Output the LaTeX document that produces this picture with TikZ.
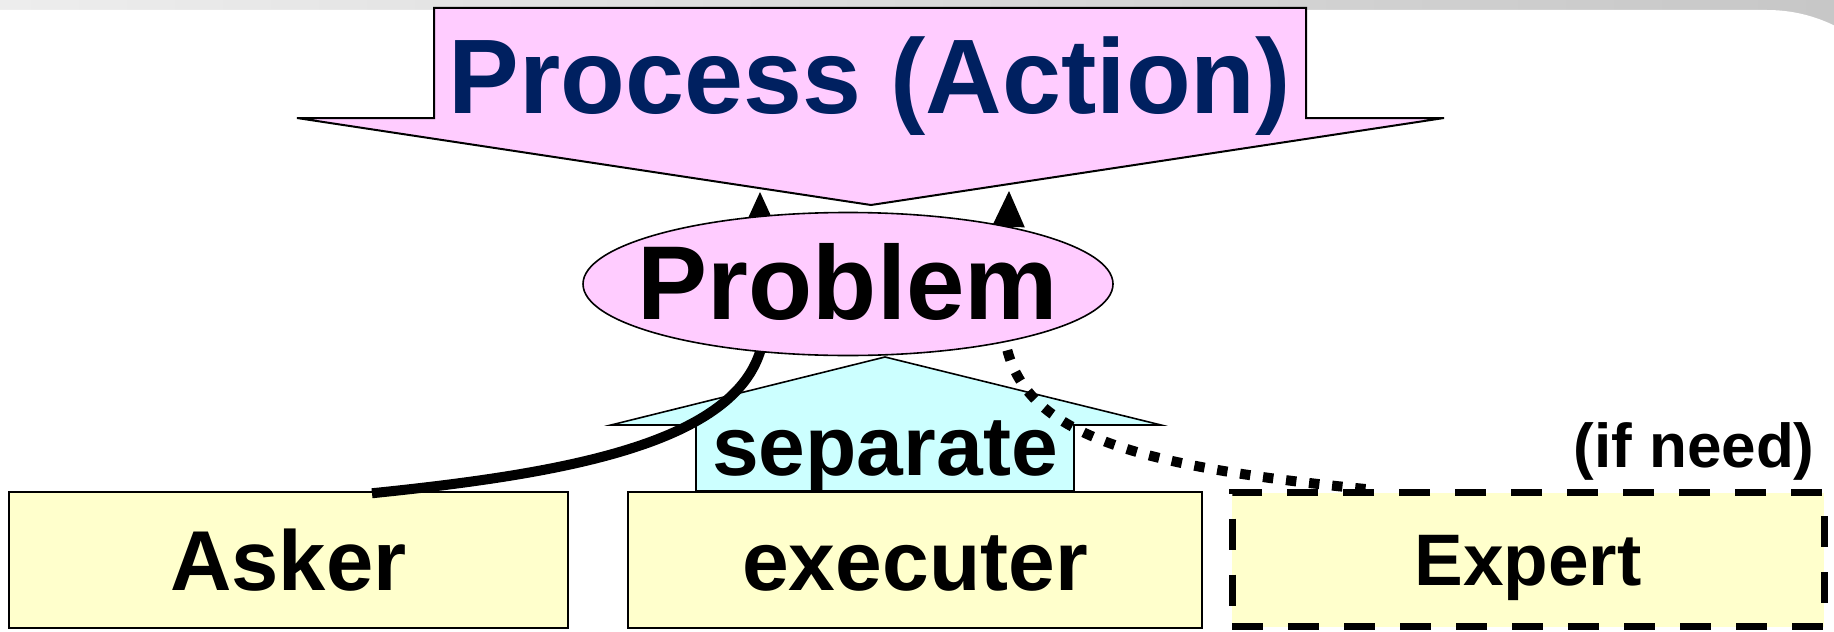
\documentclass[tikz,border=0pt]{standalone}
\usepackage{fontspec}
\setmainfont{Liberation Sans}
\usetikzlibrary{arrows.meta,shapes.geometric,calc}

\definecolor{pinkfill}{HTML}{FFCCFF}
\definecolor{cyanfill}{HTML}{CCFFFF}
\definecolor{creamfill}{HTML}{FFFFCC}
\definecolor{navytext}{HTML}{002060}

\tikzset{
  bigarrow/.style={fill=pinkfill, draw=black, line width=1pt, line join=miter},
  uparrow/.style={fill=cyanfill, draw=black, line width=0.8pt, line join=miter},
  boxbase/.style={rectangle, fill=creamfill, inner sep=0pt, text depth=0pt},
  plainbox/.style={boxbase, draw=black, line width=0.75pt},
  optbox/.style={boxbase, draw=black, line width=3.5pt, dash pattern=on 15.5pt off 12.5pt},
  problemnode/.style={ellipse, fill=pinkfill, draw=black, line width=0.8pt, inner sep=0pt,
    minimum width=265pt, minimum height=71.5pt},
  tiphead/.style={-{Triangle[width=16.5pt,length=18pt,line width=0pt]}},
  solidlink/.style={draw=black, line width=5pt, tiphead},
  dottedlink/.style={draw=black, line width=5pt, dash pattern=on 5.2pt off 6.4pt, tiphead},
}

\begin{document}
\begin{tikzpicture}[x=0.5pt,y=-0.5pt]
\useasboundingbox (0,0) rectangle (1834,631);
\clip (0,0) rectangle (1834,631);

% slide background: grey band with a rounded white page
\shade[left color=black!7, right color=black!22] (0,0) rectangle (1834,60);
\fill[white] (0,10) -- (1767,10) arc[start angle=-90, end angle=0, radius=153]
  -- (1920,631) -- (0,631) -- cycle;

% downward block arrow
\path[bigarrow] (434,8) -- (1306,8) -- (1306,118) -- (1444,118) -- (871,205)
  -- (297,118) -- (434,118) -- cycle;
\node[anchor=base, text=navytext, inner sep=0pt,
  font=\fontsize{53pt}{60pt}\selectfont\bfseries] (process) at (870,113) {Process (Action)};

% upward block arrow
\path[uparrow] (696,491) -- (696,425) -- (611,425) -- (885,357) -- (1161,425)
  -- (1074,425) -- (1074,491) -- cycle;
\node[anchor=base, inner sep=0pt,
  font=\fontsize{42pt}{50pt}\selectfont\bfseries] (separate) at (885,475) {separate};

% the three parties
\node[plainbox, minimum width=279.5pt, minimum height=68pt, text height=30.4pt,
  font=\fontsize{42.5pt}{50pt}\selectfont\bfseries] (asker) at (288.5,560) {Asker};
\node[plainbox, minimum width=287pt, minimum height=68pt, text height=30.1pt,
  font=\fontsize{42pt}{50pt}\selectfont\bfseries] (executer) at (915,560) {executer};
\node[optbox, minimum width=296pt, minimum height=67pt, text height=26.1pt,
  font=\fontsize{36.5pt}{44pt}\selectfont\bfseries] (expert) at (1528,559.5) {Expert};
\node[anchor=base, inner sep=0pt,
  font=\fontsize{31pt}{38pt}\selectfont\bfseries] (ifneed) at (1694,467) {(if need)};

% links into the process, passing behind the problem
\coordinate (procA) at (760,192);
\coordinate (procB) at (1009,191);
\draw[solidlink] ($(asker.north)+(83.5,2)$) .. controls (560,474) and (730,445) .. (760,352) -- (procA);
\draw[dottedlink] ($(expert.north west)+(137,0)$) .. controls (1120,465) and (1025,430) .. (1006,345) -- (procB);

% the problem itself
\node[problemnode] (problem) at (848,284) {};
\node[anchor=base, inner sep=0pt,
  font=\fontsize{52.5pt}{60pt}\selectfont\bfseries] (problemtext) at (problem.center |- 0,319) {Problem};
\end{tikzpicture}
\end{document}
